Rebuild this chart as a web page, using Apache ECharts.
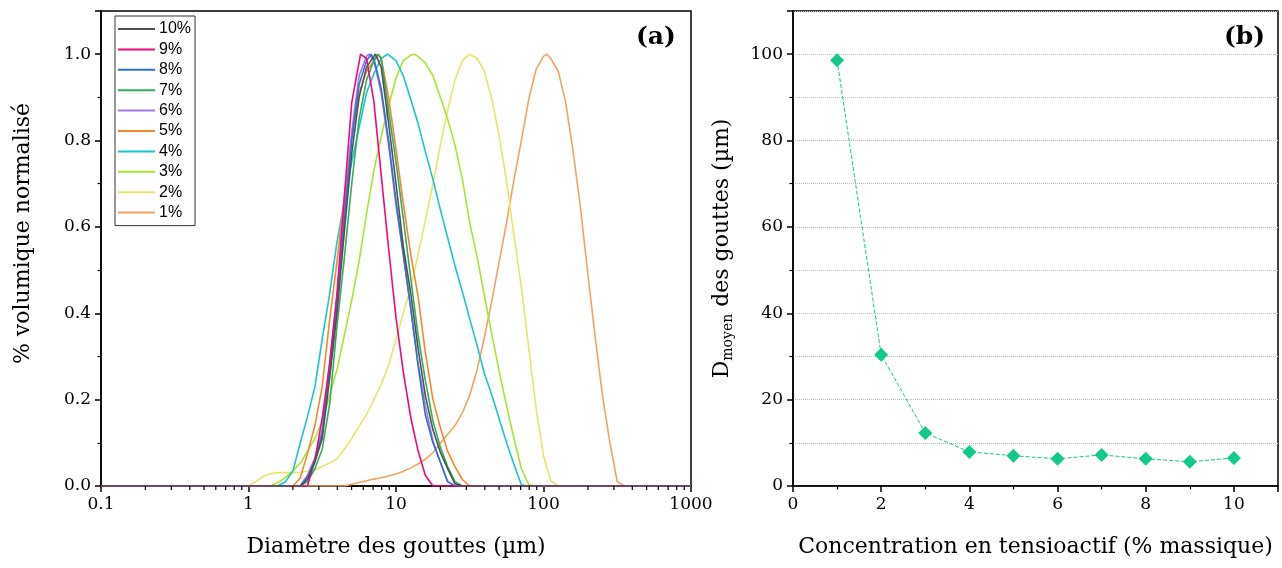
<!DOCTYPE html>
<html><head><meta charset="utf-8">
<script src="https://cdn.jsdelivr.net/npm/echarts@6/dist/echarts.min.js"></script>
<style>html,body{margin:0;padding:0;background:#fff}#c{width:1282px;height:568px}</style>
</head><body><div id="c"></div>
<script>
// ---- Panel (a): normalized volume distributions, [diameter µm, normalized volume]
const legendNames = ['10%','9%','8%','7%','6%','5%','4%','3%','2%','1%'];
const s10 = [[0.1,0],[2.24,0],[2.51,0.015],[2.82,0.055],[3.16,0.11],[3.55,0.25],[3.98,0.40],[4.47,0.59],[5.01,0.77],[5.62,0.90],[6.31,0.97],[7.08,0.995],[7.24,1.0],[7.94,0.97],[8.91,0.84],[10,0.70],[11.2,0.555],[12.6,0.445],[14.1,0.32],[15.8,0.21],[17.8,0.13],[20,0.078],[22.4,0.04],[25.1,0.005],[28.2,0],[1000,0]];
const s9 = [[0.1,0],[2.51,0],[2.82,0.06],[3.16,0.157],[3.55,0.283],[3.98,0.447],[4.47,0.673],[5.01,0.888],[5.75,1.0],[6.31,0.99],[7.08,0.89],[7.94,0.72],[8.91,0.55],[10,0.39],[11.2,0.265],[12.6,0.158],[14.1,0.082],[15.8,0.025],[17.8,0],[1000,0]];
const s8 = [[0.1,0],[2.24,0],[2.51,0.02],[2.82,0.06],[3.16,0.12],[3.55,0.27],[3.98,0.42],[4.47,0.62],[5.01,0.80],[5.62,0.93],[6.31,0.985],[6.77,1.0],[7.08,0.99],[7.94,0.92],[8.91,0.80],[10,0.66],[11.2,0.537],[12.6,0.41],[14.1,0.28],[15.8,0.165],[17.8,0.10],[20,0.055],[22.4,0.01],[25.1,0],[1000,0]];
const s7 = [[0.1,0],[2.24,0],[2.51,0.01],[2.82,0.04],[3.16,0.085],[3.55,0.19],[3.98,0.37],[4.47,0.53],[5.01,0.70],[5.62,0.85],[6.31,0.94],[7.08,0.985],[7.51,1.0],[7.94,0.99],[8.91,0.87],[10,0.75],[11.2,0.62],[12.6,0.48],[14.1,0.35],[15.8,0.245],[17.8,0.15],[20,0.09],[22.4,0.045],[25.1,0.01],[28.2,0],[1000,0]];
const s6 = [[0.1,0],[2.24,0],[2.51,0.025],[2.82,0.065],[3.16,0.13],[3.55,0.287],[3.98,0.436],[4.47,0.645],[5.01,0.82],[5.62,0.95],[6.31,0.995],[6.55,1.0],[7.08,0.985],[7.94,0.91],[8.91,0.79],[10,0.65],[11.2,0.537],[12.6,0.41],[14.1,0.285],[15.8,0.186],[17.8,0.105],[20,0.055],[22.4,0.01],[25.1,0],[1000,0]];
const s5 = [[0.1,0],[2.00,0],[2.24,0.018],[2.51,0.075],[2.82,0.14],[3.16,0.23],[3.55,0.385],[3.98,0.52],[4.47,0.67],[5.01,0.81],[5.62,0.91],[6.31,0.96],[7.08,0.985],[7.63,1.0],[7.94,0.99],[8.91,0.90],[10,0.78],[11.2,0.655],[12.6,0.535],[14.1,0.44],[15.8,0.31],[17.8,0.20],[20,0.135],[22.4,0.08],[25.1,0.045],[28.2,0.015],[31.6,0],[1000,0]];
const s4 = [[0.1,0],[1.58,0],[1.78,0.01],[2.00,0.035],[2.24,0.099],[2.51,0.16],[2.82,0.23],[3.16,0.34],[3.55,0.445],[3.98,0.565],[4.47,0.66],[5.01,0.75],[5.62,0.83],[6.31,0.91],[7.08,0.955],[7.94,0.99],[8.78,1.0],[10,0.985],[11.2,0.95],[12.6,0.895],[14.1,0.84],[15.8,0.775],[17.8,0.71],[20,0.64],[22.4,0.575],[25.1,0.51],[28.2,0.45],[31.6,0.387],[35.5,0.325],[39.8,0.26],[44.7,0.21],[50.1,0.155],[56.2,0.10],[63.1,0.05],[70.8,0.003],[79.4,0],[1000,0]];
const s3 = [[0.1,0],[1.41,0],[1.58,0.008],[1.78,0.02],[2.00,0.035],[2.24,0.052],[2.51,0.08],[2.82,0.11],[3.16,0.15],[3.55,0.21],[3.98,0.27],[4.47,0.35],[5.01,0.43],[5.62,0.52],[6.31,0.63],[7.08,0.73],[7.94,0.81],[8.91,0.88],[10,0.945],[11.2,0.985],[12.6,0.998],[13.3,1.0],[14.1,0.995],[15.8,0.98],[17.8,0.95],[20,0.90],[22.4,0.85],[25.1,0.79],[28.2,0.71],[31.6,0.61],[35.5,0.53],[39.8,0.44],[44.7,0.35],[50.1,0.265],[56.2,0.185],[63.1,0.11],[70.8,0.04],[79.4,0.003],[89.1,0],[1000,0]];
const s2 = [[0.1,0],[1.00,0],[1.12,0.01],[1.26,0.022],[1.41,0.029],[1.58,0.031],[1.78,0.031],[2.00,0.031],[2.24,0.032],[2.51,0.034],[2.82,0.037],[3.16,0.045],[3.55,0.053],[3.98,0.063],[4.47,0.085],[5.01,0.11],[5.62,0.138],[6.31,0.165],[7.08,0.20],[7.94,0.235],[8.91,0.28],[10,0.34],[11.2,0.40],[12.6,0.46],[14.1,0.535],[15.8,0.615],[17.8,0.70],[20,0.79],[22.4,0.87],[25.1,0.94],[28.2,0.985],[31.6,1.0],[35.5,0.99],[39.8,0.96],[44.7,0.895],[50.1,0.81],[56.2,0.705],[63.1,0.58],[70.8,0.46],[79.4,0.32],[89.1,0.18],[100,0.07],[112,0.012],[126,0],[1000,0]];
const s1 = [[0.1,0],[4.47,0],[5.01,0.004],[5.62,0.008],[6.31,0.012],[7.08,0.016],[7.94,0.019],[8.91,0.023],[10,0.028],[11.2,0.034],[12.6,0.042],[14.1,0.051],[15.8,0.062],[17.8,0.077],[20,0.099],[22.4,0.12],[25.1,0.14],[28.2,0.17],[31.6,0.21],[35.5,0.27],[39.8,0.345],[44.7,0.43],[50.1,0.52],[56.2,0.61],[63.1,0.71],[70.8,0.80],[79.4,0.895],[89.1,0.965],[100,0.995],[105.5,1.0],[112,0.99],[126,0.96],[141,0.89],[158,0.78],[178,0.645],[200,0.49],[224,0.345],[251,0.21],[282,0.10],[316,0.01],[355,0],[1000,0]];
const seriesA = [s10, s9, s8, s7, s6, s5, s4, s3, s2, s1];
const colorsA = ['#505050','#f0097d','#2f6fd8','#2fae5c','#a777e0','#f5862c','#16c7cf','#a5e632','#ece36c','#f4a262'];
// minor tick positions of the logarithmic diameter axis
const logMinorTicks = [0.2,0.3,0.4,0.5,0.6,0.7,0.8,0.9,2,3,4,5,6,7,8,9,20,30,40,50,60,70,80,90,200,300,400,500,600,700,800,900];

// ---- Panel (b): mean droplet diameter vs surfactant concentration
const concentration = [1,2,3,4,5,6,7,8,9,10];
const dMoyen = [98.6,30.4,12.3,7.9,7.0,6.3,7.2,6.3,5.6,6.5];

const serif = 'DejaVu Serif';
const chart = echarts.init(document.getElementById('c'), null, {renderer:'canvas'});

const axisCommon = {
  axisLine:{show:true,onZero:false,lineStyle:{color:'#000',width:1.5}},
  axisTick:{show:true,inside:false,length:6,lineStyle:{color:'#000',width:1.5}},
  minorTick:{show:true,length:3.5,lineStyle:{color:'#000',width:1.2}},
  axisLabel:{color:'#000',fontFamily:serif,fontSize:17,margin:10},
  nameTextStyle:{color:'#000',fontFamily:serif,fontSize:22},
};

const option = {
  backgroundColor:'#fff',
  animation:false,
  color: colorsA,
  grid:[
    {left:101,top:11,width:590,height:475,show:true,borderColor:'#000',borderWidth:1.5,containLabel:false},
    {left:793,top:11,width:485,height:475,show:true,borderColor:'#000',borderWidth:1.5,containLabel:false}
  ],
  legend:{
    left:115, top:16, orient:'vertical', itemWidth:37, itemHeight:2, itemGap:0.4,
    borderColor:'#333', borderWidth:1, padding:[3,4,3,3],
    textStyle:{fontFamily:'Liberation Sans',fontSize:16,lineHeight:20,color:'#000',padding:[0,0,0,-1]},
    data: legendNames.map(n=>({name:n, icon:'rect'}))
  },
  xAxis:[
    Object.assign({}, axisCommon, {
      gridIndex:0, type:'log', logBase:10, min:0.1, max:1000,
      name:'Diamètre des gouttes (µm)', nameLocation:'middle', nameGap:50,
      splitLine:{show:false},
      minorTick:{show:false},
      axisLabel:Object.assign({}, axisCommon.axisLabel, {formatter:v=>String(v)})
    }),
    Object.assign({}, axisCommon, {
      gridIndex:1, type:'value', min:0, max:11, interval:2,
      name:'Concentration en tensioactif (% massique)', nameLocation:'middle', nameGap:50,
      splitLine:{show:false},
      minorTick:{show:true,splitNumber:2,length:3.5,lineStyle:{color:'#000',width:1.2}},
      axisLabel:Object.assign({}, axisCommon.axisLabel, {showMaxLabel:false})
    })
  ],
  yAxis:[
    Object.assign({}, axisCommon, {
      gridIndex:0, type:'value', min:0, max:1.1, interval:0.2,
      name:'% volumique normalisé', nameLocation:'middle', nameGap:67,
      nameTextStyle:{color:'#000',fontFamily:serif,fontSize:22,padding:[0,0,0,30]},
      splitLine:{show:false},
      minorTick:{show:true,splitNumber:2,length:3.5,lineStyle:{color:'#000',width:1.2}},
      axisLabel:Object.assign({}, axisCommon.axisLabel, {showMaxLabel:false, formatter:v=>v.toFixed(1)})
    }),
    Object.assign({}, axisCommon, {
      gridIndex:1, type:'value', min:0, max:110, interval:20,
      name:'{a|D}{s|moyen}{a| des gouttes (µm)}', nameLocation:'middle', nameGap:58,
      nameTextStyle:{color:'#000',fontFamily:serif,fontSize:22,
        rich:{a:{fontFamily:serif,fontSize:22,color:'#000',lineHeight:26,verticalAlign:'middle'},
              s:{fontFamily:serif,fontSize:14,color:'#000',lineHeight:26,verticalAlign:'bottom',padding:[12,0,0,0]}}},
      splitLine:{show:true,lineStyle:{color:'#bdbdbd',type:'dotted',width:1}},
      minorSplitLine:{show:true,lineStyle:{color:'#bdbdbd',type:'dotted',width:1}},
      minorTick:{show:true,splitNumber:2,length:3.5,lineStyle:{color:'#000',width:1.2}},
      axisLabel:Object.assign({}, axisCommon.axisLabel, {showMaxLabel:false})
    })
  ],
  graphic:[
    {type:'text', left:636, top:25, style:{text:'(a)', font:'bold 25px "DejaVu Serif"', fill:'#000'}},
    {type:'text', left:1224, top:25, style:{text:'(b)', font:'bold 25px "DejaVu Serif"', fill:'#000'}}
  ],
  series: seriesA.map((d,i)=>({
    name: legendNames[i], type:'line', xAxisIndex:0, yAxisIndex:0, data:d,
    symbol:'none', lineStyle:{width:1.6,color:colorsA[i]}, itemStyle:{color:colorsA[i]},
    z: 2 + (seriesA.length - i)
  })).concat([{
    name:'minorTicks', type:'custom', xAxisIndex:0, yAxisIndex:0, silent:true, clip:false, z:20,
    data: logMinorTicks.map(v=>[v,0]),
    renderItem:(params, api)=>{
      const p = api.coord([api.value(0), 0]);
      return {type:'line', shape:{x1:p[0], y1:p[1], x2:p[0], y2:p[1]+4}, style:{stroke:'#000', lineWidth:1.2}};
    }
  },{
    name:'Dmoyen', type:'line', xAxisIndex:1, yAxisIndex:1,
    data: concentration.map((c,i)=>[c, dMoyen[i]]),
    symbol:'diamond', symbolSize:14,
    lineStyle:{type:'dashed',width:1,color:'#12c98a'},
    itemStyle:{color:'#12c98a'}
  }])
};
chart.setOption(option);
</script></body></html>
